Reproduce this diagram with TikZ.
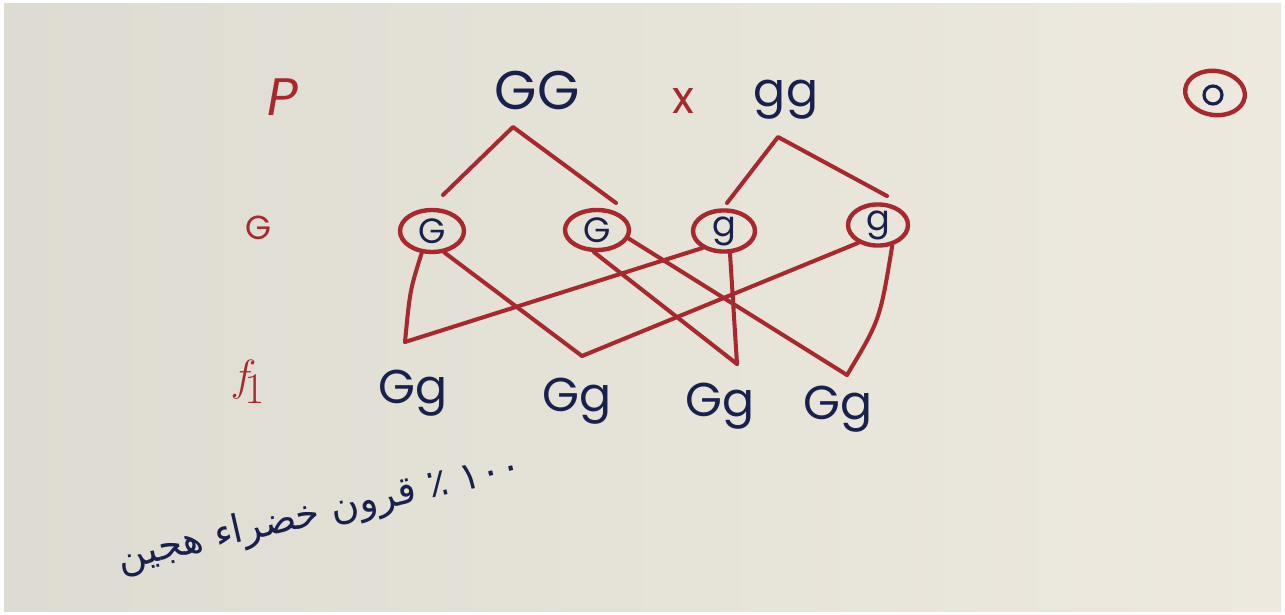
\documentclass[tikz,border=0pt]{standalone}
\usepackage{fontspec}
\usetikzlibrary{shapes.geometric}
\TeXXeTstate=1
\newfontfamily\arabicfont[Script=Arabic]{DejaVu Sans}
\newfontfamily\handfont{Poppins}
\definecolor{paperL}{RGB}{222,220,210}
\definecolor{paperR}{RGB}{237,233,223}
\definecolor{ink}{RGB}{25,32,78}
\definecolor{redink}{RGB}{168,40,46}
\tikzset{
  redline/.style={draw=redink, line width=2.3pt, line cap=round, line join=round},
  gamete/.style={ellipse, draw=redink, line width=2.5pt, inner sep=0pt,
     text=ink, font=\handfont\fontsize{20}{20}\selectfont},
  inktext/.style={text=ink, inner sep=0pt, font=\handfont\fontsize{27}{27}\selectfont},
  offtext/.style={text=ink, inner sep=0pt, font=\handfont\fontsize{27}{27}\selectfont},
  redtext/.style={text=redink, inner sep=0pt, font=\handfont\fontsize{20}{20}\selectfont}
}
\begin{document}
\begin{tikzpicture}[x=0.02cm,y=-0.02cm]
\useasboundingbox (0,0) rectangle (1285,615);
\fill[white] (0,0) rectangle (1285,615);
\shade[left color=paperL, right color=paperR] (4,4) rectangle (1281,611);

% row labels
\node[redtext, font=\handfont\itshape\fontsize{30}{30}\selectfont] (P) at (283,97) {P};
\node[redtext, font=\handfont\fontsize{19}{19}\selectfont] (Glab) at (258,228) {G};
\node[redtext, font=\itshape\fontsize{34}{34}\selectfont] (F1lab) at (248,382) {$f_{\!1}$};

% parents
\node[inktext, font=\handfont\fontsize{31}{31}\selectfont] (GG) at (537,90) {GG};
\node[redtext, font=\handfont\fontsize{26}{26}\selectfont] (cross) at (683,101) {x};
\node[inktext] (gg) at (786,100) {gg};

% circled mark
\node[ellipse, draw=redink, line width=2.5pt, rotate=-8,
      minimum width=1.2cm, minimum height=0.88cm, inner sep=0pt] (mark) at (1215,93) {};
\node[circle, draw=ink, line width=1.8pt, minimum size=0.36cm, inner sep=0pt] (markin) at (1213,95) {};

% gametes
\node[gamete, minimum width=1.28cm, minimum height=0.84cm] (G1) at (432,231) {G};
\node[gamete, minimum width=1.28cm, minimum height=0.80cm] (G2) at (597,230) {G};
\node[gamete, minimum width=1.24cm, minimum height=0.76cm] (g1) at (724,231) {g};
\node[gamete, minimum width=1.20cm, minimum height=0.80cm] (g2) at (878,225) {g};

% parent branches
\coordinate (GGa) at (513,127);
\coordinate (GGl) at (443,195);
\coordinate (GGr) at (616,203);
\coordinate (gga) at (778,137);
\coordinate (ggl) at (727,203);
\coordinate (ggr) at (887,196);
\draw[redline] (GGl) -- (GGa) -- (GGr);
\draw[redline] (ggl) -- (gga) -- (ggr);

% offspring
\node[offtext] (o1) at (413,393) {Gg};
\node[offtext] (o2) at (577,401) {Gg};
\node[offtext] (o3) at (720,406) {Gg};
\node[offtext] (o4) at (838,409) {Gg};
\coordinate (t1) at (405,342);
\coordinate (t2) at (582,356);
\coordinate (t3) at (737,364);
\coordinate (t4) at (847,375);

\draw[redline] (G1.245) .. controls (410,290) .. (t1);
\draw[redline] (g1.218) -- (t1);
\draw[redline] (G1.300) -- (t2);
\draw[redline] (g2.222) -- (t2);
\draw[redline] (G2.262) -- (t3);
\draw[redline] (g1.285) -- (t3);
\draw[redline] (G2.345) -- (t4);
\draw[redline] (g2.305) .. controls (880,320) .. (t4);

% conclusion
\node[text=ink, inner sep=0pt, rotate=13, font=\arabicfont\fontsize{22}{22}\selectfont] (note) at (320,514)
  {\beginR\beginL ١٠٠\endL{} ٪ قرون خضراء هجين\endR};
\end{tikzpicture}
\end{document}
